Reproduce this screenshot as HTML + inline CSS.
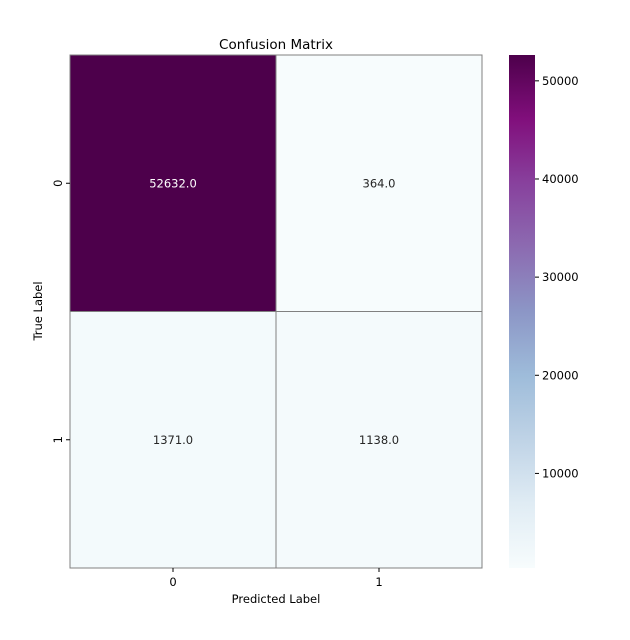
<!DOCTYPE html>
<html><head><meta charset="utf-8"><style>
body{margin:0;background:#fff;}
svg{display:block;font-family:"DejaVu Sans","Liberation Sans",sans-serif;}
</style></head><body>
<svg id="chart" width="630" height="640" viewBox="0 0 630 640">
<defs>
<linearGradient id="bupu" x1="0" y1="1" x2="0" y2="0">
<stop offset="0" stop-color="#f7fcfd"/><stop offset="0.125" stop-color="#e0ecf4"/>
<stop offset="0.25" stop-color="#bfd3e6"/><stop offset="0.375" stop-color="#9ebcda"/>
<stop offset="0.5" stop-color="#8c96c6"/><stop offset="0.625" stop-color="#8c6bb1"/>
<stop offset="0.75" stop-color="#88419d"/><stop offset="0.875" stop-color="#810f7c"/>
<stop offset="1" stop-color="#4d004b"/>
</linearGradient>
</defs>
<text x="276" y="49" text-anchor="middle" font-size="13.5" fill="#000">Confusion Matrix</text>
<text x="276" y="603" text-anchor="middle" font-size="11.5" fill="#000">Predicted Label</text>
<text transform="translate(42,311) rotate(-90)" text-anchor="middle" font-size="11.5" fill="#000">True Label</text>
<g id="cells"></g>
<rect x="509" y="55" width="26" height="513" fill="url(#bupu)"/>
<g id="cbticks"></g>
</svg>
<script>
const labels = ["0","1"];
const values = [[52632,364],[1371,1138]];
const cbTicks = [10000,20000,30000,40000,50000];

const X0=70, Y0=55, W=412, H=513;
const vmin=364, vmax=52632;
const stops=["#f7fcfd","#e0ecf4","#bfd3e6","#9ebcda","#8c96c6","#8c6bb1","#88419d","#810f7c","#4d004b"];
function hex(c){return [1,3,5].map(i=>parseInt(c.substr(i,2),16));}
function color(v){
  let t=Math.max(0,Math.min(1,(v-vmin)/(vmax-vmin)))*(stops.length-1);
  let i=Math.min(Math.floor(t),stops.length-2), f=t-i;
  let a=hex(stops[i]), b=hex(stops[i+1]);
  return "rgb("+a.map((x,k)=>Math.round(x+(b[k]-x)*f)).join(",")+")";
}
function lum(v){return (v-vmin)/(vmax-vmin);}
const ns="http://www.w3.org/2000/svg";
const g=document.getElementById("cells");
const n=labels.length, cw=W/n, ch=H/n;
function xPos(j){return X0+j*cw;}
function yPos(i){return Y0+i*ch;}
function cbY(v){return Y0+H-(v-vmin)/(vmax-vmin)*H;}
for(let i=0;i<n;i++){for(let j=0;j<n;j++){
  const v=values[i][j];
  const r=document.createElementNS(ns,"rect");
  r.setAttribute("x",xPos(j));r.setAttribute("y",yPos(i));
  r.setAttribute("width",cw);r.setAttribute("height",ch);
  r.setAttribute("fill",color(v));r.setAttribute("stroke","#808080");r.setAttribute("stroke-width","1");
  
  
  g.appendChild(r);
  const t=document.createElementNS(ns,"text");
  t.setAttribute("x",xPos(j)+cw/2);t.setAttribute("y",yPos(i)+ch/2+4);
  t.setAttribute("text-anchor","middle");t.setAttribute("font-size","11.5");
  t.setAttribute("fill",lum(v)>0.5?"#fff":"#262626");
  t.textContent=v.toFixed(1);
  
  
  g.appendChild(t);
}}
for(let k=0;k<n;k++){
  const tx=document.createElementNS(ns,"text");
  tx.setAttribute("x",xPos(k)+cw/2);tx.setAttribute("y",Y0+H+18);
  tx.setAttribute("text-anchor","middle");tx.setAttribute("font-size","11.5");
  tx.textContent=labels[k];
  
  
  g.appendChild(tx);
  const lx=document.createElementNS(ns,"line");
  lx.setAttribute("x1",xPos(k)+cw/2);lx.setAttribute("x2",xPos(k)+cw/2);
  lx.setAttribute("y1",Y0+H);lx.setAttribute("y2",Y0+H+4);lx.setAttribute("stroke","#000");
  
  
  g.appendChild(lx);
  const ty=document.createElementNS(ns,"text");
  ty.setAttribute("transform","translate(62,"+(yPos(k)+ch/2)+") rotate(-90)");
  ty.setAttribute("text-anchor","middle");ty.setAttribute("font-size","11.5");
  ty.textContent=labels[k];
  
  
  g.appendChild(ty);
  const ly=document.createElementNS(ns,"line");
  ly.setAttribute("x1",X0-4);ly.setAttribute("x2",X0);
  ly.setAttribute("y1",yPos(k)+ch/2);ly.setAttribute("y2",yPos(k)+ch/2);ly.setAttribute("stroke","#000");
  
  
  g.appendChild(ly);
}
const cb=document.getElementById("cbticks");
cbTicks.forEach(v=>{
  const y=cbY(v);
  const l=document.createElementNS(ns,"line");
  l.setAttribute("x1",535);l.setAttribute("x2",539);l.setAttribute("y1",y);l.setAttribute("y2",y);l.setAttribute("stroke","#000");
  
  
  cb.appendChild(l);
  const t=document.createElementNS(ns,"text");
  t.setAttribute("x",542);t.setAttribute("y",y+4);t.setAttribute("font-size","11.5");
  t.textContent=v;
  
  
  cb.appendChild(t);
});
</script>
</body></html>
